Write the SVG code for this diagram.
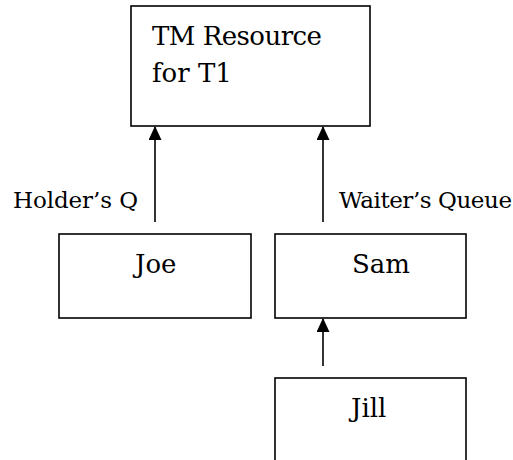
<svg xmlns="http://www.w3.org/2000/svg" width="513" height="460" viewBox="0 0 513 460">
<style>
.box{fill:#fff;stroke:#000;stroke-width:1.6}
.c{stroke:#000;stroke-width:1.6;fill:none}
</style>
<defs>
<marker id="ah" markerUnits="userSpaceOnUse" markerWidth="14" markerHeight="16" refX="13" refY="6.5" orient="auto">
<path d="M0,0 L14,6.5 L0,13 Z" fill="#000"/>
</marker>
</defs>
<rect width="513" height="460" fill="#fff"/>
<g font-family="DejaVu Serif, serif" font-size="26" fill="#000">
<g id="tm">
<rect class="box" x="131" y="6" width="239" height="120"/>
<text x="152" y="45" textLength="170">TM Resource</text>
<text x="152" y="82">for T1</text>
</g>
<g id="joe">
<rect class="box" x="59" y="234" width="192" height="84"/>
<text x="135" y="273">Joe</text>
</g>
<g id="sam">
<rect class="box" x="275" y="234" width="191" height="84"/>
<text x="352" y="273">Sam</text>
</g>
<g id="jill">
<rect class="box" x="275" y="378" width="191" height="90"/>
<text x="351" y="417">Jill</text>
</g>
<g id="connectors">
<line class="c" x1="155" y1="222" x2="155" y2="127" marker-end="url(#ah)"/>
<line class="c" x1="323" y1="222" x2="323" y2="127" marker-end="url(#ah)"/>
<line class="c" x1="323" y1="366" x2="323" y2="319" marker-end="url(#ah)"/>
<text font-size="23" x="13" y="208" textLength="125">Holder’s Q</text>
<text font-size="23" x="339" y="208" textLength="173">Waiter’s Queue</text>
</g>
</g>
</svg>
